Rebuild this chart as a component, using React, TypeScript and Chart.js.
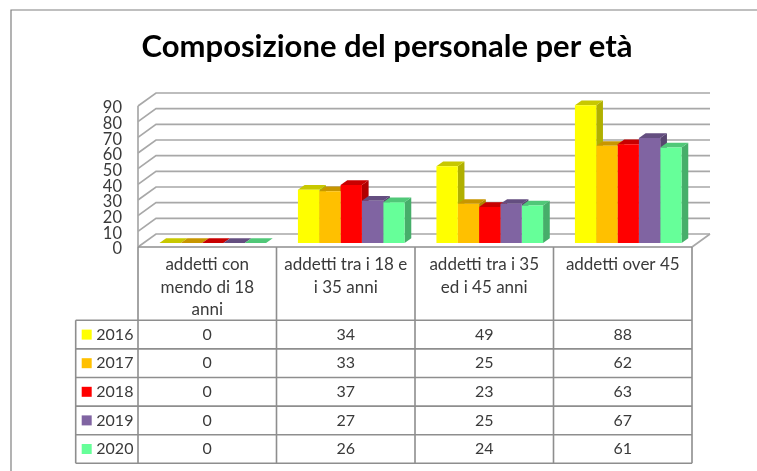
import React, { useEffect, useRef } from "react";
import { Chart, registerables } from "chart.js";

Chart.register(...registerables);

const categories = [
  ["addetti con", "mendo di 18", "anni"],
  ["addetti tra i 18 e", "i 35 anni"],
  ["addetti tra i 35", "ed i 45 anni"],
  ["addetti over 45"],
];
const years = ["2016", "2017", "2018", "2019", "2020"];
const values2016 = [0, 34, 49, 88];
const values2017 = [0, 33, 25, 62];
const values2018 = [0, 37, 23, 63];
const values2019 = [0, 27, 25, 67];
const values2020 = [0, 26, 24, 61];
const seriesValues = [values2016, values2017, values2018, values2019, values2020];
const frontColors = ["#FFFF00", "#FFC000", "#FF0000", "#8064A2", "#66FF99"];
const topColors = ["#C8C800", "#C89600", "#C80000", "#644E80", "#50C878"];
const sideColors = ["#B0B000", "#B08400", "#B00000", "#584670", "#46AE6A"];

const FONT = "Lato, 'Open Sans', sans-serif";
const GRID = "#A8A8A8";
const BORDER = "#8E8E8E";
const TEXT = "#3A3A3A";
const ROW_H = 28.6;
const FRONT_DX = -5.5, FRONT_DY = 4; // bars plane -> front plane
const WALL_DX = 18, WALL_DY = -13;  // front plane -> back wall
const BAR_DX = 6.7, BAR_DY = 4.7;

const chart3d = {
  id: "chart3d",
  beforeDraw(chart: any) {
    const { ctx, width, height } = chart;
    ctx.save();
    ctx.fillStyle = "#fff";
    ctx.fillRect(0, 0, width, height);
    ctx.strokeStyle = "#808080";
    ctx.lineWidth = 1.2;
    ctx.beginPath();
    ctx.moveTo(11, height);
    ctx.lineTo(11, 10);
    ctx.lineTo(width, 10);
    ctx.stroke();
    ctx.restore();
  },
  beforeDatasetsDraw(chart: any) {
    const { ctx, scales, chartArea } = chart;
    const y = scales.y;
    const fl = chartArea.left + FRONT_DX;
    const fr = chartArea.right + FRONT_DX;
    ctx.save();
    // walls and gridlines
    ctx.strokeStyle = GRID;
    ctx.lineWidth = 1.7;
    y.ticks.forEach((t: any) => {
      const fy = y.getPixelForValue(t.value) + FRONT_DY;
      ctx.beginPath();
      ctx.moveTo(fl, fy);
      ctx.lineTo(fl + WALL_DX, fy + WALL_DY);
      ctx.lineTo(fr + WALL_DX, fy + WALL_DY);
      ctx.stroke();
    });
    const y0 = y.getPixelForValue(0) + FRONT_DY;
    const yTop = y.getPixelForValue(90) + FRONT_DY;
    ctx.beginPath();
    ctx.moveTo(fl, yTop);
    ctx.lineTo(fl, y0);
    ctx.moveTo(fr, y0);
    ctx.lineTo(fr + WALL_DX, y0 + WALL_DY);
    ctx.stroke();
    // depth faces of the bars
    for (let c = 0; c < categories.length; c++) {
      chart.data.datasets.forEach((_: any, d: number) => {
        const el = chart.getDatasetMeta(d).data[c];
        const l = el.x - el.width / 2, r = el.x + el.width / 2;
        ctx.fillStyle = sideColors[d];
        ctx.beginPath();
        ctx.moveTo(r, el.y);
        ctx.lineTo(r + BAR_DX, el.y - BAR_DY);
        ctx.lineTo(r + BAR_DX, el.base - BAR_DY);
        ctx.lineTo(r, el.base);
        ctx.closePath();
        ctx.fill();
        ctx.fillStyle = topColors[d];
        ctx.beginPath();
        ctx.moveTo(l, el.y);
        ctx.lineTo(r, el.y);
        ctx.lineTo(r + BAR_DX, el.y - BAR_DY);
        ctx.lineTo(l + BAR_DX, el.y - BAR_DY);
        ctx.closePath();
        ctx.fill();
      });
    }
    ctx.restore();
  },
  afterDraw(chart: any) {
    const { ctx, scales, chartArea } = chart;
    const x = scales.x;
    const half = (x.getPixelForValue(1) - x.getPixelForValue(0)) / 2;
    const top = chartArea.bottom + FRONT_DY;
    const rowsTop = 320.3;
    const yearLeft = 75.7;
    const edges = categories.map((_, i) => x.getPixelForValue(i) - half + FRONT_DX);
    const right = chartArea.right + FRONT_DX;
    const bottom = rowsTop + ROW_H * years.length;
    ctx.save();
    ctx.strokeStyle = BORDER;
    ctx.lineWidth = 1.6;
    ctx.beginPath();
    ctx.moveTo(edges[0], top);
    ctx.lineTo(right, top);
    [...edges, right].forEach((ex) => {
      ctx.moveTo(ex, top);
      ctx.lineTo(ex, bottom);
    });
    ctx.moveTo(yearLeft, rowsTop);
    ctx.lineTo(yearLeft, bottom);
    years.forEach((_, i) => {
      ctx.moveTo(yearLeft, rowsTop + ROW_H * i);
      ctx.lineTo(right, rowsTop + ROW_H * i);
    });
    ctx.moveTo(yearLeft, bottom);
    ctx.lineTo(right, bottom);
    ctx.stroke();
    ctx.font = `16px ${FONT}`;
    ctx.textBaseline = "middle";
    years.forEach((yr, i) => {
      const cy = rowsTop + ROW_H * (i + 0.5);
      ctx.fillStyle = frontColors[i];
      ctx.fillRect(81.7, cy - 5, 10, 10);
      ctx.fillStyle = TEXT;
      ctx.textAlign = "left";
      ctx.fillText(yr, 96.3, cy);
      ctx.textAlign = "center";
      seriesValues[i].forEach((v, c) => {
        ctx.fillText(String(v), x.getPixelForValue(c) + FRONT_DX, cy);
      });
    });
    ctx.restore();
  },
};

export default function App() {
  const ref = useRef<HTMLCanvasElement>(null);
  useEffect(() => {
    const chart = new Chart(ref.current!, {
      type: "bar",
      data: {
        labels: categories as any,
        datasets: years.map((yr, i) => ({
          label: yr,
          data: seriesValues[i],
          backgroundColor: frontColors[i],
          borderWidth: 0,
          barPercentage: 1,
          categoryPercentage: 0.77,
        })),
      },
      plugins: [chart3d],
      options: {
        responsive: false,
        animation: false,
        layout: { autoPadding: false, padding: { left: 76.5, right: 59.5, top: 0, bottom: 0 } },
        plugins: {
          legend: { display: false },
          tooltip: { enabled: false },
          title: {
            display: true,
            text: "Composizione del personale per età",
            color: "#000",
            font: { family: FONT, size: 31, weight: "bold", lineHeight: 1.2 },
            padding: { top: 28.4, bottom: 36.4 },
          },
        },
        scales: {
          x: {
            grid: { display: false },
            border: { display: false },
            afterFit: (s: any) => { s.height = 228; },
            ticks: {
              autoSkip: false,
              maxRotation: 0,
              minRotation: 0,
              labelOffset: FRONT_DX,
              padding: 2,
              color: TEXT,
              font: { family: FONT, size: 17, lineHeight: 1.34 },
            },
          },
          y: {
            min: 0,
            max: 90,
            grid: { display: false, drawTicks: false },
            border: { display: false },
            afterFit: (s: any) => { s.width = 67; },
            ticks: {
              stepSize: 10,
              autoSkip: false,
              labelOffset: 6,
              padding: 21.5,
              color: TEXT,
              font: { family: FONT, size: 16.5 },
            },
          },
        },
      } as any,
    });
    return () => chart.destroy();
  }, []);
  return (
    <div style={{ position: "fixed", left: 0, top: 0 }}>
      <canvas ref={ref} width={757} height={471} style={{ display: "block", filter: "blur(0.35px)" }} />
    </div>
  );
}
